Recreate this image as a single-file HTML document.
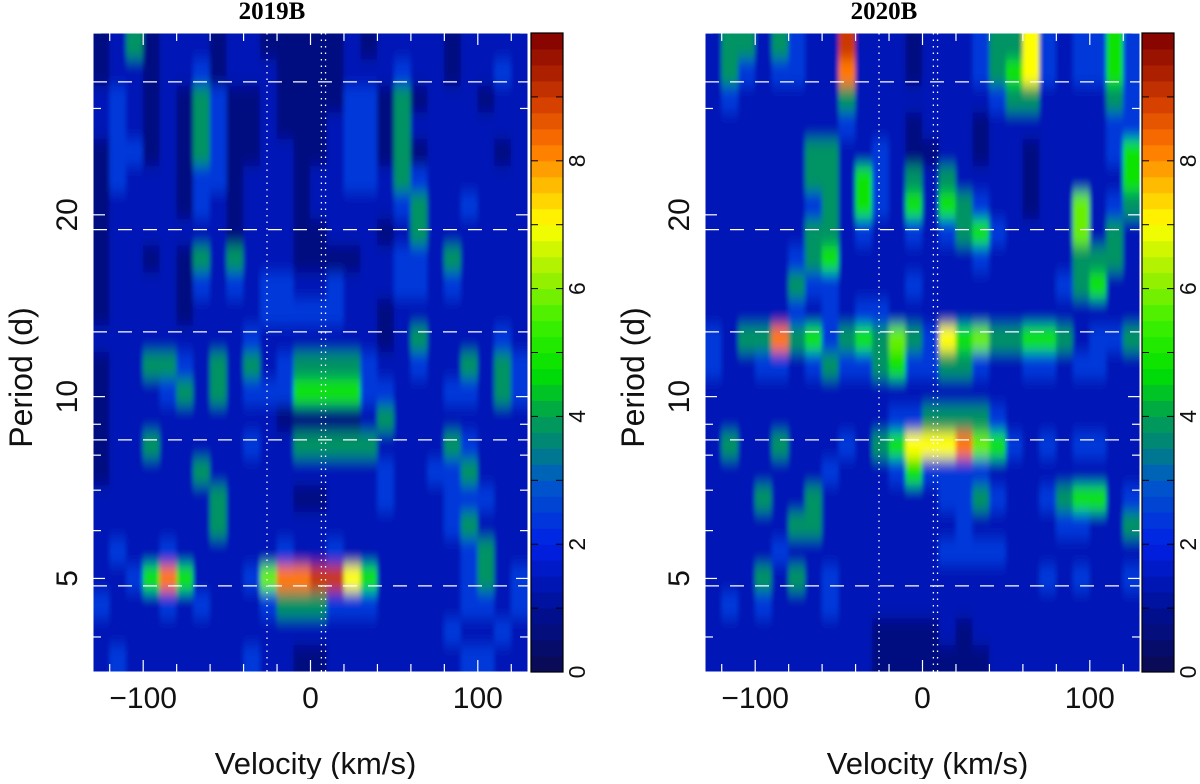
<!DOCTYPE html>
<html><head><meta charset="utf-8"><style>
html,body{margin:0;padding:0;background:#fff;}
svg text{font-family:"Liberation Sans",sans-serif;}
</style></head><body>
<svg id="fig" width="1200" height="779" xmlns="http://www.w3.org/2000/svg">
<defs>
<filter id="bl" x="-0.1" y="-0.1" width="1.2" height="1.2"><feGaussianBlur stdDeviation="2 7" edgeMode="duplicate"/></filter>
<clipPath id="clipL"><rect x="93" y="33" width="435" height="639"/></clipPath>
<clipPath id="clipR"><rect x="705" y="33" width="435" height="639"/></clipPath>
</defs>
</svg>
<script>
const velMin=-130, velMax=130, perMin=3.5, perMax=40, zMax=10;
const xTicks=[-120,-100,-80,-60,-40,-20,0,20,40,60,80,100,120];
const xLabels=[-100,0,100];
const yTicks=[4,5,6,7,8,9,10,20,30,40];
const yLabels=[5,10,20];
const cbLabels=[0,2,4,6,8];
const markedPeriods=[33.2,18.9,12.8,8.48,4.86];
const markedVels=[-26,6.5,9];
// power level encoded per grid digit
const digitValue=[0,0.7,1.4,2.4,3.8,4.8,5.8,7,8.2,9];
const grid2019=[
"1 2 4 1 2 2 2 1 2 2 1 1 1 1 1 2 1 2 2 2 2 1 2 2 2 2",
"1 2 2 1 2 2 3 1 2 2 2 1 1 1 1 2 2 2 3 2 2 1 2 2 3 2",
"2 3 2 1 2 1 4 3 1 1 2 1 1 1 1 3 3 1 4 1 2 2 2 1 2 2",
"2 3 2 1 2 1 4 3 1 1 2 1 1 1 2 3 3 1 4 2 2 2 2 2 2 2",
"1 3 3 1 2 1 4 3 1 1 2 2 1 1 2 3 3 1 4 1 2 2 2 2 1 2",
"1 3 2 2 2 1 3 3 1 2 2 2 1 2 2 3 3 2 4 3 2 2 2 2 2 2",
"1 2 2 2 2 1 3 2 1 2 2 2 1 2 2 2 2 2 3 4 2 2 3 2 2 2",
"1 2 2 2 2 2 2 2 1 2 2 2 1 1 2 2 2 1 2 4 2 2 2 2 2 2",
"1 2 2 1 2 1 4 2 4 2 2 2 1 1 1 1 2 2 3 3 2 4 2 2 2 2",
"1 2 2 2 2 1 3 2 3 2 3 3 2 2 3 2 2 2 3 3 2 3 2 2 2 2",
"1 2 2 2 2 1 2 2 2 2 3 3 3 3 3 2 2 1 2 2 2 2 2 2 2 2",
"2 2 2 2 2 2 2 2 2 3 2 2 2 2 2 2 2 1 2 4 2 2 2 2 3 2",
"1 2 2 4 4 3 2 4 2 4 2 3 4 4 4 4 3 2 2 3 2 2 4 2 4 3",
"1 2 2 2 3 4 2 4 2 3 3 3 5 5 5 5 3 3 2 2 2 3 3 2 4 3",
"1 2 2 2 2 2 2 2 2 2 2 1 1 1 1 1 2 4 2 2 2 2 2 2 2 2",
"1 2 2 4 2 2 2 2 2 3 2 2 4 4 4 4 4 2 2 2 2 4 3 2 2 2",
"1 2 2 2 2 2 4 2 2 2 2 2 2 2 2 2 2 3 2 2 3 3 4 2 2 2",
"2 2 2 2 2 2 2 4 2 2 2 2 1 1 2 2 2 3 2 2 2 3 3 3 2 2",
"2 2 2 2 2 2 2 4 2 2 2 2 2 2 2 2 2 2 2 2 2 3 4 2 2 2",
"2 3 2 2 3 2 2 2 2 2 2 3 2 2 3 2 2 2 2 2 2 2 3 4 2 2",
"2 2 3 5 8 5 2 2 2 3 6 8 8 9 9 7 5 2 2 2 2 2 3 4 2 3",
"3 2 2 2 3 2 3 2 2 2 3 4 4 4 3 3 3 2 2 2 2 2 3 3 2 3",
"2 2 2 2 2 2 2 2 2 2 2 2 2 2 2 2 2 2 2 2 2 3 2 2 3 2",
"2 3 2 2 2 2 2 2 2 3 2 2 1 1 2 2 2 2 2 2 2 2 3 3 2 2"];
const grid2020=[
"2 4 4 2 4 3 2 2 9 2 2 2 1 2 2 2 3 4 4 7 3 2 3 3 5 3",
"2 4 3 2 3 3 2 2 8 2 2 2 1 2 2 2 3 4 5 7 3 2 3 3 5 3",
"2 3 2 2 2 2 2 2 4 2 2 2 2 2 2 2 2 3 4 4 2 2 2 2 4 3",
"2 2 2 2 2 2 2 2 3 2 2 2 1 2 2 2 1 2 2 2 2 2 2 2 3 3",
"2 2 2 2 2 2 4 4 2 2 3 2 1 1 2 2 1 2 2 1 2 2 2 2 3 5",
"2 2 2 2 2 2 4 4 2 5 3 2 4 2 4 2 2 2 2 1 2 2 2 2 2 5",
"2 2 2 2 2 2 3 4 2 5 3 2 5 2 5 4 3 2 2 1 2 2 6 2 3 4",
"2 2 2 2 2 2 4 4 2 3 2 2 3 2 3 4 5 3 2 2 2 2 6 2 4 2",
"2 2 2 2 2 3 4 5 2 2 2 2 2 2 2 2 3 2 2 2 2 2 4 4 4 2",
"2 2 2 2 2 4 3 3 2 2 2 2 3 2 2 2 2 2 2 2 2 3 4 5 2 2",
"2 2 2 2 2 3 2 3 2 3 3 2 2 2 2 2 2 2 2 2 2 2 2 2 2 2",
"3 2 4 4 8 4 5 3 4 5 4 6 4 3 7 5 6 4 4 5 5 4 2 3 3 4",
"3 2 2 3 3 2 3 4 3 3 4 5 3 3 4 4 3 2 2 3 3 2 3 3 2 2",
"2 2 2 2 2 2 2 2 2 2 2 2 2 2 2 2 2 2 2 2 2 2 2 2 2 2",
"2 2 2 2 2 2 2 2 2 2 2 3 3 4 4 4 4 3 2 2 2 2 2 2 2 2",
"2 4 2 2 4 2 2 2 3 2 4 5 7 7 7 8 6 5 3 2 3 2 3 3 2 2",
"2 2 2 2 2 2 2 3 2 2 2 3 5 3 3 3 3 2 2 2 2 2 2 2 2 2",
"2 2 2 4 2 2 4 2 2 2 2 2 2 2 3 3 4 3 2 2 3 4 5 5 2 3",
"2 2 2 2 2 4 4 2 2 2 2 2 2 2 2 3 2 2 2 2 2 3 3 2 2 4",
"2 2 2 2 3 2 2 2 2 2 2 2 2 2 3 3 3 3 2 2 2 2 2 2 2 2",
"2 2 2 4 2 4 2 3 2 2 2 2 2 2 2 2 2 2 2 2 3 2 3 2 2 3",
"2 3 2 3 2 2 2 3 2 2 2 2 2 2 2 2 2 2 2 2 2 2 2 2 2 2",
"2 2 2 2 2 2 2 2 2 2 1 1 1 1 2 1 2 2 2 2 2 2 2 2 2 2",
"2 2 2 2 2 2 2 2 2 2 1 1 1 1 1 1 1 2 2 2 2 2 2 2 2 2"];

const NS="http://www.w3.org/2000/svg";
const svg=document.getElementById('fig');
function mk(tag,attrs,parent){const e=document.createElementNS(NS,tag);for(const k in attrs)e.setAttribute(k,attrs[k]);(parent||svg).appendChild(e);return e;}
const stops=[[0,[10,10,80]],[1,[0,16,150]],[2,[0,32,230]],[3,[0,90,200]],[3.5,[0,128,128]],[4,[0,160,80]],[4.7,[0,225,0]],[5.5,[64,240,0]],[6.3,[170,240,0]],[7,[255,255,0]],[7.6,[255,190,0]],[8.2,[255,120,0]],[8.8,[220,70,0]],[9.4,[170,30,0]],[10,[128,0,0]]];
function cmap(z){z=Math.max(0,Math.min(10,z));for(let i=1;i<stops.length;i++){if(z<=stops[i][0]){const a=stops[i-1],b=stops[i];const t=(z-a[0])/(b[0]-a[0]);const c=a[1].map((v,k)=>Math.round(v+(b[1][k]-v)*t));return `rgb(${c[0]},${c[1]},${c[2]})`;}}return 'rgb(128,0,0)';}

function panel(opt){
  const L=opt.left,T=33,W=435,H=639;
  const xs=v=>L+(v-velMin)/(velMax-velMin)*W;
  const ys=p=>T+(Math.log(perMax)-Math.log(p))/(Math.log(perMax)-Math.log(perMin))*H;
  const g=mk('g',{'clip-path':`url(#${opt.clip})`});
  
  
  const gg=mk('g',{filter:'url(#bl)'},g);
  const rows=opt.grid.map(r=>r.split(' ').map(d=>digitValue[Number(d)]));
  const nr=rows.length;
  rows.forEach((row,i)=>{
    const p0=perMax*Math.pow(perMin/perMax,i/nr), p1=perMax*Math.pow(perMin/perMax,(i+1)/nr);
    const nc=row.length, dv=(velMax-velMin)/nc;
    row.forEach((z,j)=>{
      const v0=velMin+j*dv, v1=v0+dv;
      let x0=xs(v0)-0.3, x1=xs(v1)+0.3, y0=ys(p0)-0.3, y1=ys(p1)+0.3;
      if(j===0)x0-=15; if(j===nc-1)x1+=15; if(i===0)y0-=15; if(i===nr-1)y1+=15;
      const r=mk('rect',{x:x0,y:y0,width:x1-x0,height:y1-y0,fill:cmap(z)},gg);
      
      
    });
  });
  markedPeriods.forEach(p=>{const l=mk('line',{x1:L,x2:L+W,y1:ys(p),y2:ys(p),stroke:'#fff','stroke-width':1.3,'stroke-dasharray':'14 11'});
    
    });
  markedVels.forEach(v=>{const l=mk('line',{x1:xs(v),x2:xs(v),y1:T,y2:T+H,stroke:'#fff','stroke-width':1.3,'stroke-dasharray':'1.5 5'});
    
    });
  xTicks.forEach(v=>{const len=(v%100===0)?12:8;
    const a=mk('line',{x1:xs(v),x2:xs(v),y1:T,y2:T+len,stroke:'#fff','stroke-width':1.2});
    
    
    const b=mk('line',{x1:xs(v),x2:xs(v),y1:T+H,y2:T+H-len,stroke:'#fff','stroke-width':1.2});
    
    });
  yTicks.forEach(p=>{const len=(p===5||p===10||p===20)?12:8;
    const a=mk('line',{x1:L,x2:L+len,y1:ys(p),y2:ys(p),stroke:'#fff','stroke-width':1.2});
    
    
    const b=mk('line',{x1:L+W,x2:L+W-len,y1:ys(p),y2:ys(p),stroke:'#fff','stroke-width':1.2});
    
    });
  xLabels.forEach(v=>{const t=mk('text',{x:xs(v),y:708,'text-anchor':'middle','font-size':30,fill:'#111'});t.textContent=(v<0?'\u2212':'')+Math.abs(v);
    
    });
  yLabels.forEach(p=>{const x=L-16,y=ys(p);const t=mk('text',{x:x,y:y,'text-anchor':'middle','font-size':30,fill:'#111',transform:`rotate(-90 ${x} ${y})`});t.textContent=p;
    
    });
  const xt=mk('text',{x:L+W/2+5,y:774,'text-anchor':'middle','font-size':31,fill:'#111'});xt.textContent='Velocity (km/s)';
  
  
  const yx=L-61,yy=T+H/2+25;
  const yt=mk('text',{x:yx,y:yy,'text-anchor':'middle','font-size':32,fill:'#111',transform:`rotate(-90 ${yx} ${yy})`});yt.textContent='Period (d)';
  
  
  const tt=mk('text',{x:opt.titleX,y:19,'text-anchor':'middle','font-size':25,'font-weight':'bold',fill:'#000',style:'font-family:"Liberation Serif",serif'});tt.textContent=opt.title;
  
  
  // colorbar
  const cx=opt.cb, cw=32;
  const cz=z=>T+H-(z/zMax)*H;
  const cg=mk('g',{});
  
  
  for(let k=0;k<40;k++){const z0=k*0.25;mk('rect',{x:cx,y:cz(z0+0.25),width:cw,height:cz(z0)-cz(z0+0.25)+0.5,fill:cmap(z0+0.125)},cg);}
  for(let z=1;z<zMax;z++){mk('line',{x1:cx,x2:cx+7,y1:cz(z),y2:cz(z),stroke:'#000','stroke-width':1},cg);mk('line',{x1:cx+cw,x2:cx+cw-7,y1:cz(z),y2:cz(z),stroke:'#000','stroke-width':1},cg);}
  mk('rect',{x:cx,y:T,width:cw,height:H,fill:'none',stroke:'#000','stroke-width':1.2},cg);
  cbLabels.forEach(z=>{const x=cx+cw+22,y=cz(z);const t=mk('text',{x:x,y:y,'text-anchor':'middle','font-size':23,fill:'#111',transform:`rotate(-90 ${x} ${y})`});t.textContent=z;
    
    });
  mk('rect',{x:L,y:T,width:W,height:H,fill:'none',stroke:'#fff','stroke-width':1});
}
panel({id:'panel-2019b',left:93,clip:'clipL',grid:grid2019,title:'2019B',titleX:272,cb:531});
panel({id:'panel-2020b',left:705,clip:'clipR',grid:grid2020,title:'2020B',titleX:884,cb:1142});
</script>
</body></html>
